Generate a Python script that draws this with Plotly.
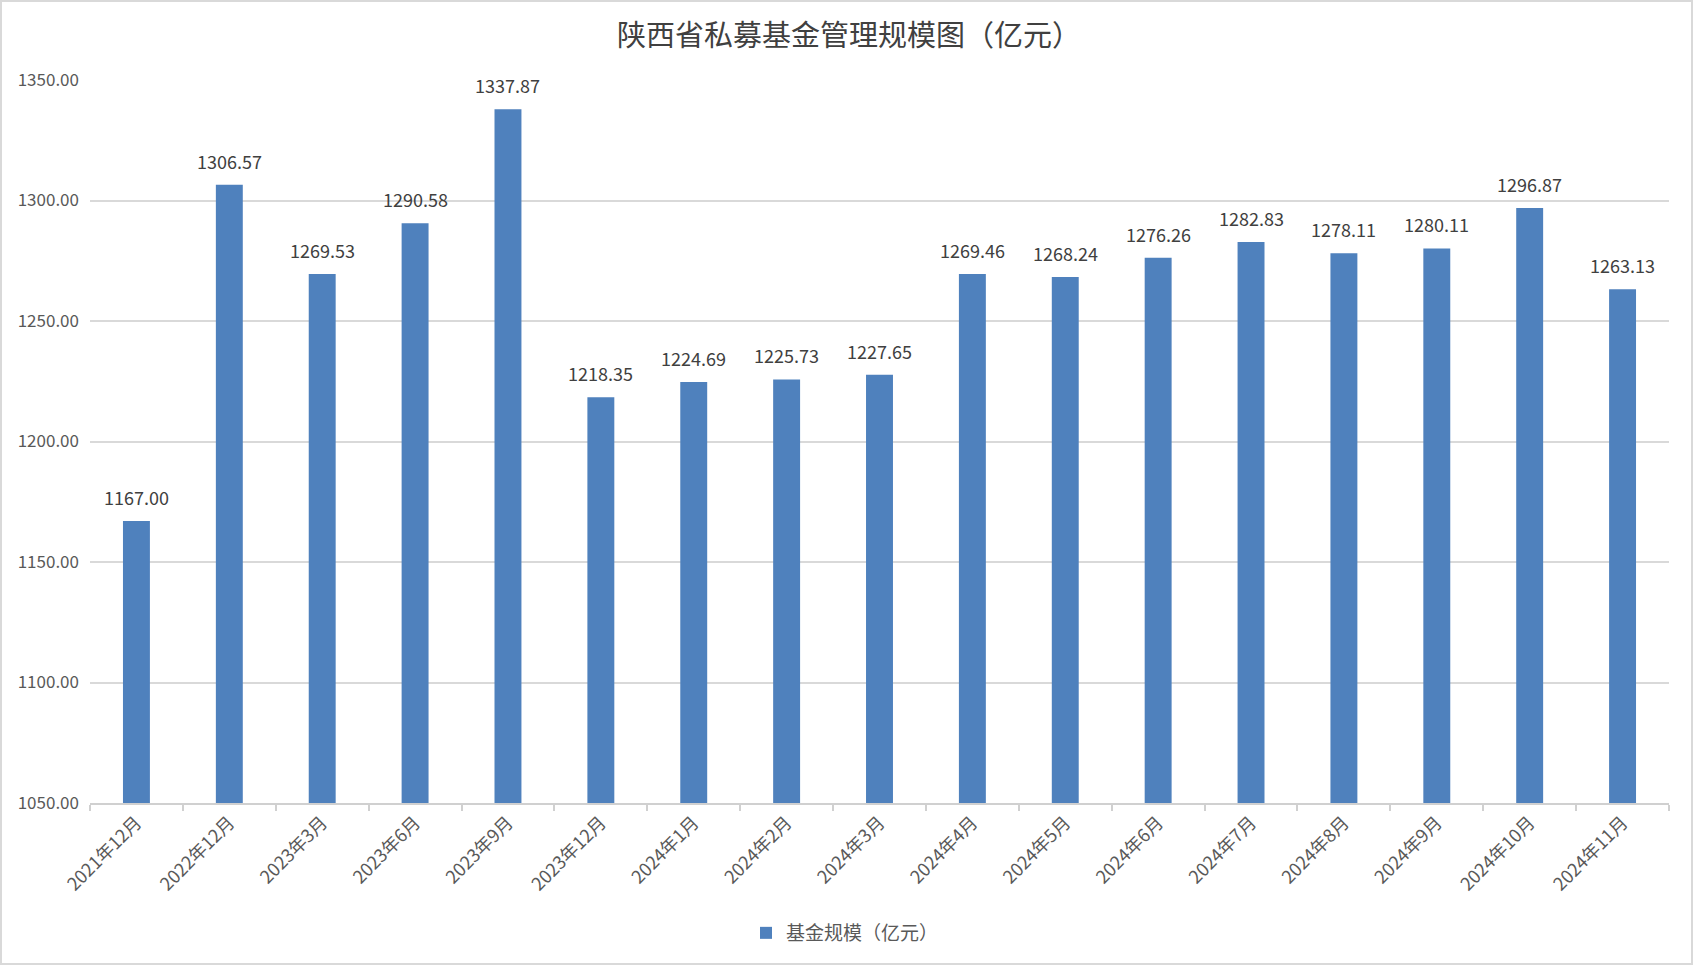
import plotly.graph_objects as go

# 陕西省私募基金管理规模（亿元）
months = ["2021年12月", "2022年12月", "2023年3月", "2023年6月", "2023年9月",
          "2023年12月", "2024年1月", "2024年2月", "2024年3月", "2024年4月",
          "2024年5月", "2024年6月", "2024年7月", "2024年8月", "2024年9月",
          "2024年10月", "2024年11月"]
scale = [1167.00, 1306.57, 1269.53, 1290.58, 1337.87,
         1218.35, 1224.69, 1225.73, 1227.65, 1269.46,
         1268.24, 1276.26, 1282.83, 1278.11, 1280.11,
         1296.87, 1263.13]
y_ticks = [1050, 1100, 1150, 1200, 1250, 1300, 1350]

W, H = 1693, 965
ml, mr, mt, mb = 90, 24, 80, 162
pw, ph = W - ml - mr, H - mt - mb

FONT = "Noto Sans CJK SC, Noto Sans, sans-serif"

fig = go.Figure()
fig.add_trace(go.Bar(
    x=months, y=scale, name="基金规模（亿元）",
    marker=dict(color="#4F81BD", line=dict(width=0)),
))

# data labels above each bar
for m, v in zip(months, scale):
    fig.add_annotation(x=m, y=v, text=f"{v:.2f}", showarrow=False,
                       yanchor="middle", yshift=24,
                       font=dict(family=FONT, size=18, color="#404040"))

# light border round the whole chart
fig.add_shape(type="rect", xref="paper", yref="paper",
              x0=(1 - ml) / pw, x1=(W - 1 - ml) / pw,
              y0=-(mb - 1) / ph, y1=1 + (mt - 1) / ph,
              line=dict(color="#d9d9d9", width=2), layer="below")

fig.update_layout(
    width=W, height=H,
    margin=dict(l=ml, r=mr, t=mt, b=mb),
    paper_bgcolor="white", plot_bgcolor="white",
    bargap=0.71,
    font=dict(family=FONT, color="#595959"),
    title=dict(text="陕西省私募基金管理规模图（亿元）",
               x=849 / W, xref="container", xanchor="center",
               y=1 - 36 / H, yref="container", yanchor="middle",
               font=dict(family=FONT, size=29, color="#404040")),
    showlegend=True,
    legend=dict(orientation="h", x=845 / W, xref="container", xanchor="center",
                y=1 - 933 / H, yref="container", yanchor="middle",
                font=dict(family=FONT, size=19, color="#595959")),
)

fig.update_xaxes(
    type="category", tickangle=-45,
    showline=True, linecolor="#d0d0d0", linewidth=2,
    ticks="outside", tickson="boundaries", ticklen=6,
    tickcolor="#d0d0d0", tickwidth=2,
    tickfont=dict(family=FONT, size=18, color="#595959"),
    showgrid=False, zeroline=False,
)
fig.update_yaxes(
    range=[1050, 1350], tickvals=y_ticks, tickformat=".2f",
    showgrid=True, gridcolor="#d9d9d9", gridwidth=1.5,
    showline=False, zeroline=False, ticks="",
    ticklabelstandoff=10,
    tickfont=dict(family=FONT, size=17, color="#595959"),
)

# drop the browser's default page margin so the chart sits at 0,0
fig.write_html("out.html",
               config={"displayModeBar": False},
               post_script="document.body.style.margin='0';")
